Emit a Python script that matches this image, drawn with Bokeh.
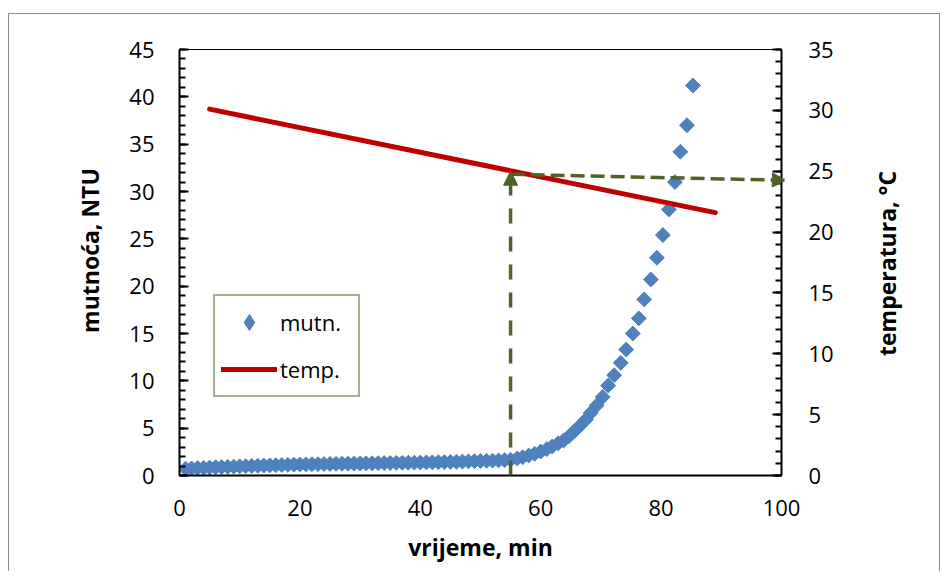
import math
from bokeh.plotting import figure
from bokeh.models import (Range1d, LinearAxis, SingleIntervalTicker, Arrow,
                          NormalHead, Legend, LegendItem)
from bokeh.embed import file_html
from bokeh.resources import INLINE

# ---- data ----
turb_time = [1, 2, 3, 4, 5, 6, 7, 8, 9, 10, 11, 12, 13, 14, 15, 16, 17, 18, 19, 20,
             21, 22, 23, 24, 25, 26, 27, 28, 29, 30, 31, 32, 33, 34, 35, 36, 37, 38, 39, 40,
             41, 42, 43, 44, 45, 46, 47, 48, 49, 50, 51, 52, 53, 54,
             55, 56.1, 57, 58, 59, 60, 61, 61.9, 62.9, 63.8, 64.7, 65.7, 66.6, 67.5, 68.3,
             69.3, 70.3, 71.2, 72.2, 73.3, 74.2, 75.3, 76.3, 77.2, 78.3, 79.3, 80.3, 81.3,
             82.3, 83.2, 84.3, 85.3]
turb_ntu = [0.72, 0.75, 0.78, 0.81, 0.84, 0.87, 0.89, 0.92, 0.94, 0.97, 0.99, 1.01, 1.03,
            1.05, 1.07, 1.09, 1.11, 1.13, 1.15, 1.17, 1.18, 1.19, 1.20, 1.21, 1.22, 1.23,
            1.24, 1.25, 1.26, 1.27, 1.28, 1.29, 1.30, 1.31, 1.32, 1.33, 1.34, 1.35, 1.36,
            1.37, 1.38, 1.39, 1.40, 1.41, 1.43, 1.45, 1.47, 1.49, 1.51, 1.53, 1.55, 1.57,
            1.59, 1.62,
            1.66, 1.80, 1.93, 2.11, 2.29, 2.53, 2.78, 3.06, 3.40, 3.70, 4.15, 4.75, 5.30,
            5.90, 6.60, 7.40, 8.30, 9.50, 10.6, 11.9, 13.3, 15.0, 16.6, 18.6, 20.7, 23.0,
            25.4, 28.1, 31.0, 34.2, 37.0, 41.2]

temp_time = [5, 89]
temp_c = [30.1, 21.6]

# critical point annotation
crit_time = 55
crit_temp = 25.0
arrow_start_temp = 24.75
arrow_end_temp = 24.25
arrow_end_time = 100.8

x_ticks_interval = 20
y_ticks_interval = 5

x_title = "vrijeme, min"
y_title = "mutnoća, NTU"
y2_title = "temperatura, °C"

BLUE = "#4F81BD"
RED = "#C00000"
GREEN = "#4F6228"
FONT = "Open Sans"

p = figure(width=932, height=558, output_backend="svg", toolbar_location=None,
           x_range=Range1d(0, 100), y_range=Range1d(0, 45),
           min_border_left=170, min_border_right=160, min_border_top=35,
           min_border_bottom=97)
p.margin = (13, 0, 0, 8)
p.styles = {"border-top": "1px solid #8c8c8c", "border-left": "1px solid #8c8c8c",
            "border-right": "1px solid #8c8c8c"}
p.extra_y_ranges = {"temp": Range1d(0, 35)}
p.grid.visible = False
p.outline_line_color = "black"
p.outline_line_width = 1
p.background_fill_color = "white"
p.border_fill_color = "white"

# bottom axis
xa = p.xaxis[0]
xa.ticker = SingleIntervalTicker(interval=x_ticks_interval, num_minor_ticks=0)
xa.axis_label = x_title
xa.major_tick_in = 0
xa.major_tick_out = 0
xa.minor_tick_in = 0
xa.minor_tick_out = 0

# left axis (title sits a little above the frame centre in the reference)
ya = p.yaxis[0]
ya.ticker = SingleIntervalTicker(interval=y_ticks_interval, num_minor_ticks=5)
ya.axis_label = "\u00a0" * 4 + y_title

# right axis: title reads bottom-to-top like the reference; the rotated label is
# anchored at its start, so it is started from the axis start and padded
ra = LinearAxis(y_range_name="temp",
                ticker=SingleIntervalTicker(interval=y_ticks_interval, num_minor_ticks=5),
                axis_label="\u00a0" * 20 + y2_title)
ra.axis_label_orientation = math.pi / 2
ra.axis_label_align = "start"
p.add_layout(ra, "right")

for ax in (xa, ya, ra):
    ax.axis_line_color = "black"
    ax.axis_line_width = 2
    ax.major_tick_line_color = "black"
    ax.minor_tick_line_color = "black"
    ax.major_tick_line_width = 2
    ax.minor_tick_line_width = 2
    ax.major_label_text_font = FONT
    ax.major_label_text_font_size = "22px"
    ax.major_label_text_color = "black"
    ax.axis_label_text_font = FONT
    ax.axis_label_text_font_size = "23px"
    ax.axis_label_text_font_style = "bold"
    ax.axis_label_text_color = "black"
for ax in (ya, ra):
    ax.major_tick_in = 9
    ax.major_tick_out = 0
    ax.minor_tick_in = 6
    ax.minor_tick_out = 0
ya.major_label_standoff = 25
ya.axis_label_standoff = 20
ra.major_label_standoff = 27
ra.axis_label_standoff = 50
xa.major_label_standoff = 24
xa.axis_label_standoff = 12

# legend swatch for the diamond markers (legend swatches ignore marker angle);
# it sits under the first real marker
sc_key = p.scatter(turb_time[:1], turb_ntu[:1], marker="diamond", size=6,
                   fill_color=BLUE, line_color=BLUE)
sc = p.scatter(turb_time, turb_ntu, marker="square", angle=math.pi / 4, size=10.5,
               fill_color=BLUE, line_color=BLUE)
ln = p.line(temp_time, temp_c, y_range_name="temp", line_color=RED, line_width=5,
            line_cap="round")

p.add_layout(Arrow(end=NormalHead(size=14, fill_color=GREEN, line_color=GREEN),
                   x_start=crit_time, y_start=0, x_end=crit_time, y_end=crit_temp,
                   y_range_name="temp", line_color=GREEN, line_width=3.5,
                   line_dash="15 13"))
p.add_layout(Arrow(end=NormalHead(size=14, fill_color=GREEN, line_color=GREEN),
                   x_start=crit_time, y_start=arrow_start_temp, x_end=arrow_end_time,
                   y_end=arrow_end_temp, y_range_name="temp", line_color=GREEN,
                   line_width=3.5, line_dash="14 6"))

legend = Legend(items=[LegendItem(label="mutn.", renderers=[sc_key]),
                       LegendItem(label="temp.", renderers=[ln])],
                location=(34, 78), margin=0, padding=6, spacing=7,
                glyph_width=56, glyph_height=40, label_standoff=3, label_width=72,
                label_text_font=FONT, label_text_font_size="22px",
                label_text_color="black",
                border_line_color=GREEN, border_line_width=2,
                background_fill_color="white", background_fill_alpha=1)
p.add_layout(legend)

open("out.html", "w").write(file_html(p, INLINE))
